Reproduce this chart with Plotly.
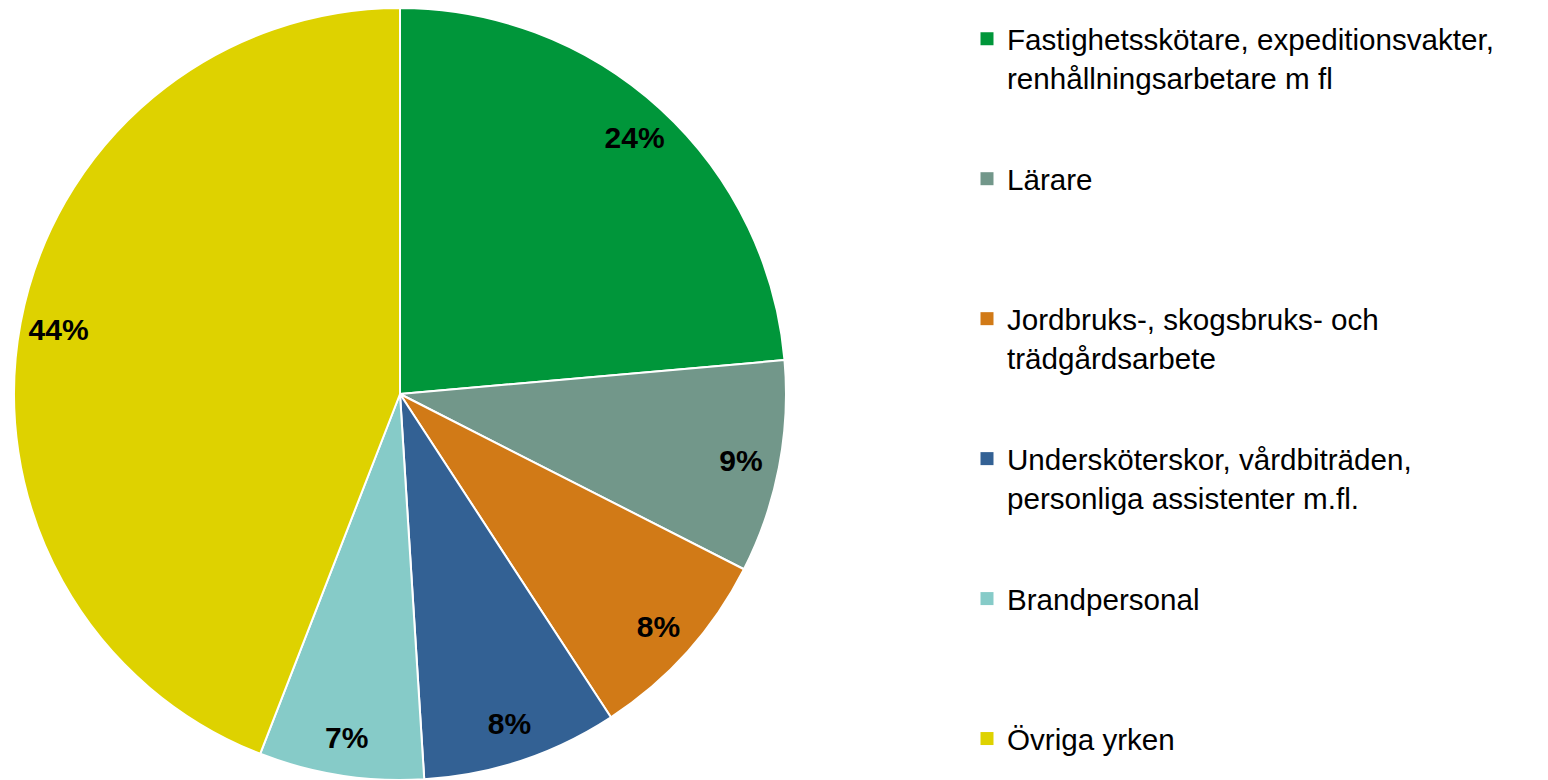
import plotly.graph_objects as go

categories = [
    "Fastighetsskötare, expeditionsvakter,<br>renhållningsarbetare m fl",
    "Lärare",
    "Jordbruks-, skogsbruks- och<br>trädgårdsarbete",
    "Undersköterskor, vårdbiträden,<br>personliga assistenter m.fl.",
    "Brandpersonal",
    "Övriga yrken",
]
values = [23.6, 8.9, 8.3, 8.2, 6.9, 44.1]
colors = ["#00963A", "#72978A", "#D17A17", "#336194", "#86CBC8", "#DED200"]

W, H = 1548, 780
R = 386
cx = 400
dom_x = [(cx - R) / W, (cx + R) / W]
dom_y = [0, 2 * R / H]

fig = go.Figure()

fig.add_trace(go.Pie(
    values=values, labels=categories, sort=False, direction="clockwise", rotation=0,
    marker=dict(colors=colors, line=dict(color="white", width=2)),
    textinfo="none", showlegend=False, hoverinfo="label+percent",
    domain=dict(x=dom_x, y=dom_y),
))

fig.add_trace(go.Pie(
    values=values, labels=categories, sort=False, direction="clockwise", rotation=0,
    hole=0.8,
    marker=dict(colors=["rgba(0,0,0,0)"] * len(values), line=dict(width=0)),
    texttemplate="<b>%{percent:.0%}</b>", textposition="inside",
    insidetextorientation="horizontal",
    textfont=dict(family="Liberation Sans, Arial, sans-serif", size=30, color="black"),
    showlegend=False, hoverinfo="skip",
    domain=dict(x=dom_x, y=dom_y),
))

n = len(categories)
for i, (cat, col) in enumerate(zip(categories, colors)):
    name = cat if ("<br>" in cat or i == n - 1) else cat + "<br> "
    fig.add_trace(go.Scatter(
        x=[None], y=[None], mode="markers", name=name,
        marker=dict(symbol="square", size=13, color=col, line=dict(width=0)),
        legendgroup=f"g{i}", showlegend=True,
    ))

fig.update_layout(
    width=W, height=H,
    margin=dict(l=0, r=0, t=0, b=0),
    paper_bgcolor="white", plot_bgcolor="white",
    xaxis=dict(visible=False), yaxis=dict(visible=False),
    uniformtext=dict(minsize=30, mode="show"),
    legend=dict(
        x=967 / W, y=1 - 13 / H, xanchor="left", yanchor="top",
        font=dict(family="Liberation Sans, Arial, sans-serif", size=29.6, color="black"),
        valign="top", tracegroupgap=60, traceorder="grouped",
        bgcolor="rgba(0,0,0,0)",
    ),
)

fig.write_html("out.html", config={"displayModeBar": False},
               post_script="document.body.style.margin='0';")
